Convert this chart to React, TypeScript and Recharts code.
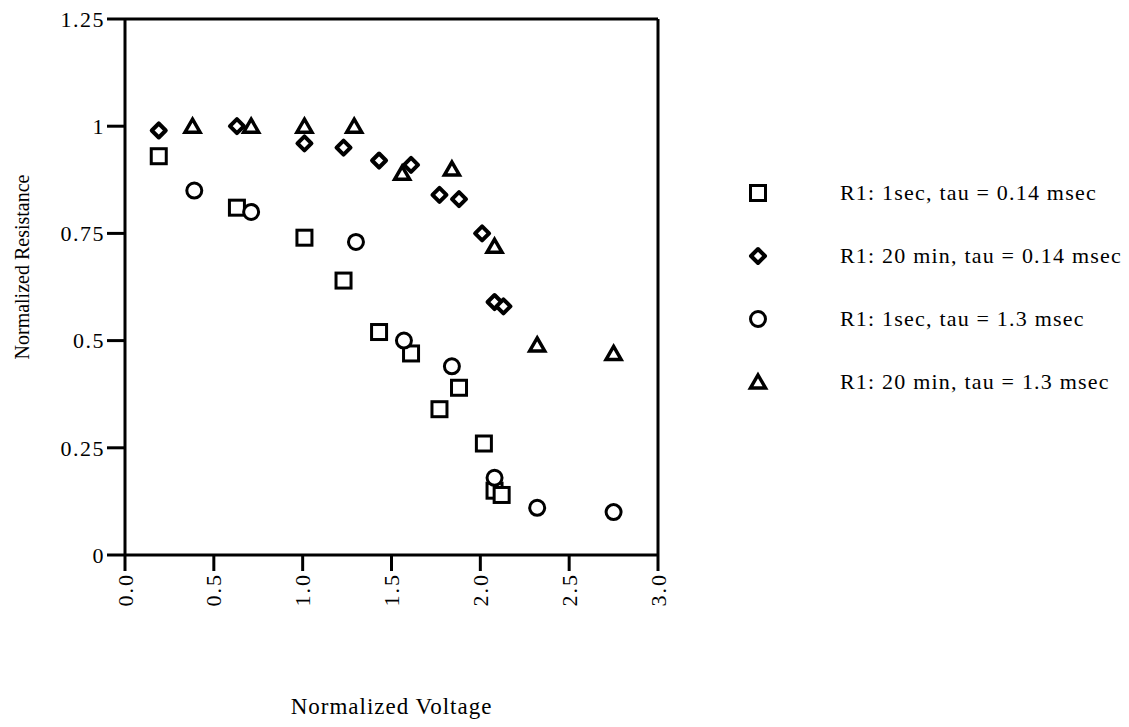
import { ScatterChart, Scatter, XAxis, YAxis, Legend, ReferenceLine } from 'recharts';

// R1: 1sec, tau = 0.14 msec
const squareX = [0.19, 0.63, 1.01, 1.23, 1.43, 1.61, 1.77, 1.88, 2.02, 2.08, 2.12];
const squareY = [0.93, 0.81, 0.74, 0.64, 0.52, 0.47, 0.34, 0.39, 0.26, 0.15, 0.14];

// R1: 20 min, tau = 0.14 msec
const diamondX = [0.19, 0.63, 1.01, 1.23, 1.43, 1.61, 1.77, 1.88, 2.01, 2.08, 2.13];
const diamondY = [0.99, 1.0, 0.96, 0.95, 0.92, 0.91, 0.84, 0.83, 0.75, 0.59, 0.58];

// R1: 1sec, tau = 1.3 msec
const circleX = [0.39, 0.71, 1.3, 1.57, 1.84, 2.08, 2.32, 2.75];
const circleY = [0.85, 0.8, 0.73, 0.5, 0.44, 0.18, 0.11, 0.1];

// R1: 20 min, tau = 1.3 msec
const triangleX = [0.38, 0.71, 1.01, 1.29, 1.56, 1.84, 2.08, 2.32, 2.75];
const triangleY = [1.0, 1.0, 1.0, 1.0, 0.89, 0.9, 0.72, 0.49, 0.47];

const xTicks = [0, 0.5, 1, 1.5, 2, 2.5, 3];
const yTicks = [0, 0.25, 0.5, 0.75, 1, 1.25];

const FONT = '"Liberation Serif", "Times New Roman", serif';

const toPoints = (xs: number[], ys: number[]) => xs.map((x, i) => ({ x, y: ys[i] }));

function Square({ cx, cy }: any) {
  return <rect x={cx - 7.5} y={cy - 7.5} width={15} height={15} fill="#fff" stroke="#000" strokeWidth={3} />;
}

function Diamond({ cx, cy }: any) {
  const r = 7;
  return (
    <polygon
      points={`${cx},${cy - r} ${cx + r},${cy} ${cx},${cy + r} ${cx - r},${cy}`}
      fill="#fff"
      stroke="#000"
      strokeWidth={4}
      strokeLinejoin="round"
    />
  );
}

function Circ({ cx, cy }: any) {
  return <circle cx={cx} cy={cy} r={7.5} fill="#fff" stroke="#000" strokeWidth={3} />;
}

function Tri({ cx, cy }: any) {
  return (
    <polygon
      points={`${cx},${cy - 7} ${cx + 7.5},${cy + 6} ${cx - 7.5},${cy + 6}`}
      fill="#fff"
      stroke="#000"
      strokeWidth={3.5}
      strokeLinejoin="miter"
    />
  );
}

const series = [
  { name: 'R1: 1sec, tau = 0.14 msec', data: toPoints(squareX, squareY), Shape: Square },
  { name: 'R1: 20 min, tau = 0.14 msec', data: toPoints(diamondX, diamondY), Shape: Diamond },
  { name: 'R1: 1sec, tau = 1.3 msec', data: toPoints(circleX, circleY), Shape: Circ },
  { name: 'R1: 20 min, tau = 1.3 msec', data: toPoints(triangleX, triangleY), Shape: Tri },
];

function XTick({ x, y, payload }: any) {
  return (
    <text
      x={x}
      y={y}
      transform={`rotate(-90 ${x} ${y})`}
      textAnchor="end"
      dominantBaseline="central"
      fill="#000"
      fontSize={22}
      letterSpacing={2}
      fontFamily={FONT}
    >
      {Number(payload.value).toFixed(1)}
    </text>
  );
}

function YTitle({ viewBox }: any) {
  const x = viewBox.x + 22;
  const y = viewBox.y + viewBox.height / 2 - 20;
  return (
    <text x={x} y={y} transform={`rotate(-90 ${x} ${y})`} textAnchor="middle" dominantBaseline="central" fill="#000" fontSize={20} fontFamily={FONT}>
      Normalized Resistance
    </text>
  );
}

function XTitle({ viewBox }: any) {
  const x = viewBox.x + viewBox.width / 2;
  const y = viewBox.y + 151;
  return (
    <text x={x} y={y} textAnchor="middle" dominantBaseline="central" fill="#000" fontSize={23} letterSpacing={1} fontFamily={FONT}>
      Normalized Voltage
    </text>
  );
}

function LegendBox() {
  return (
    <div style={{ fontFamily: FONT, fontSize: 22, letterSpacing: 1.2, color: '#000' }}>
      {series.map(({ name, Shape }) => (
        <div key={name} style={{ display: 'flex', alignItems: 'center', height: 63 }}>
          <svg width={24} height={24} style={{ marginRight: 70 }}>
            <Shape cx={12} cy={12} />
          </svg>
          <span style={{ whiteSpace: 'nowrap' }}>{name}</span>
        </div>
      ))}
    </div>
  );
}

export default function App() {
  return (
    <div style={{ position: 'absolute', left: 0, top: 0, background: '#fff' }}>
      <ScatterChart width={1129} height={727} margin={{ top: 19, right: 471, bottom: 12, left: 0 }}>
        <XAxis
          type="number"
          dataKey="x"
          domain={[0, 3]}
          ticks={xTicks}
          height={160}
          tickSize={16}
          axisLine={{ stroke: '#000', strokeWidth: 3 }}
          tickLine={{ stroke: '#000', strokeWidth: 3 }}
          tick={<XTick />}
          label={{ content: <XTitle /> }}
        />
        <YAxis
          type="number"
          dataKey="y"
          domain={[0, 1.25]}
          ticks={yTicks}
          width={125}
          tickSize={18}
          axisLine={{ stroke: '#000', strokeWidth: 3 }}
          tickLine={{ stroke: '#000', strokeWidth: 3 }}
          tick={{ fill: '#000', fontSize: 22, letterSpacing: 1.5, fontFamily: FONT }}
          label={{ content: <YTitle /> }}
        />
        <ReferenceLine y={1.25} stroke="#000" strokeWidth={3} />
        <ReferenceLine x={3} stroke="#000" strokeWidth={3} />
        {series.map(({ name, data, Shape }) => (
          <Scatter key={name} name={name} data={data} shape={<Shape />} isAnimationActive={false} />
        ))}
        <Legend
          layout="vertical"
          align="center"
          verticalAlign="middle"
          content={<LegendBox />}
          wrapperStyle={{ left: 746, top: 161, width: 380 }}
        />
      </ScatterChart>
    </div>
  );
}
